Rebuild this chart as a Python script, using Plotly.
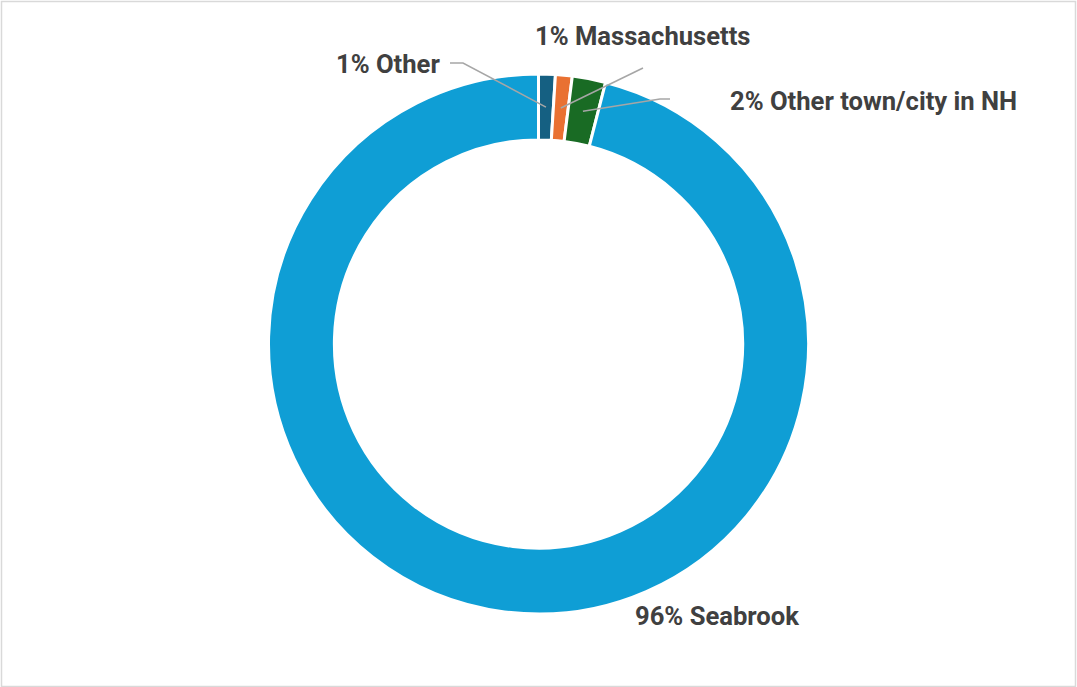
import math
import plotly.graph_objects as go

# ---- data ----
categories = ["Other", "Massachusetts", "Other town/city in NH", "Seabrook"]
shares = [1.0, 1.0, 2.0, 96.0]
colors = ["#156082", "#E97132", "#196B24", "#0F9ED5"]

W, H = 1077, 687
CX, CY, R_OUT = 538.5, 344.0, 270.0
HOLE = 0.756
R_IN = R_OUT * HOLE


def px(x):
    return x / W


def py(y):
    return 1 - y / H


fig = go.Figure(go.Pie(
    labels=categories,
    values=shares,
    sort=False,
    direction="clockwise",
    rotation=0,
    hole=HOLE,
    marker=dict(colors=colors, line=dict(color="white", width=3)),
    textinfo="none",
    hoverinfo="label+percent",
    showlegend=False,
    domain=dict(x=[px(CX - R_OUT), px(CX + R_OUT)], y=[py(CY + R_OUT), py(CY - R_OUT)]),
))

# label placement (layout), leader lines end at slice mid-angle / mid-ring
label_pos = {
    "Other": dict(x=442, y=64, xanchor="right", elbow=[(450, 63), (463, 63)]),
    "Massachusetts": dict(x=643, y=36, xanchor="center", elbow=[(643, 68)]),
    "Other town/city in NH": dict(x=728, y=101, xanchor="left", elbow=[(670, 99), (660, 99)]),
    "Seabrook": dict(x=633, y=616, xanchor="left", elbow=None),
}

total = sum(shares)
cum = 0.0
shapes = []
annotations = []
for cat, v in zip(categories, shares):
    mid = (cum + v / 2) / total * 2 * math.pi
    cum += v
    pct = round(v / total * 100)
    lp = label_pos[cat]
    annotations.append(dict(
        x=px(lp["x"]), y=py(lp["y"]), xref="paper", yref="paper",
        xanchor=lp["xanchor"], yanchor="middle", showarrow=False,
        text=f"{pct}% {cat}",
        font=dict(family="Roboto", size=25.6, color="#404040", weight="bold"),
    ))
    if lp["elbow"]:
        rm = (R_OUT + R_IN) / 2
        ex = CX + rm * math.sin(mid)
        ey = CY - rm * math.cos(mid)
        pts = lp["elbow"] + [(ex, ey)]
        path = "M " + " L ".join(f"{px(a):.5f},{py(b):.5f}" for a, b in pts)
        shapes.append(dict(type="path", path=path, xref="paper", yref="paper",
                           line=dict(color="#A6A6A6", width=1.5)))

# chart border
shapes.append(dict(type="rect", xref="paper", yref="paper", x0=px(1.5), x1=px(W - 1.5),
                   y0=py(H - 0.5), y1=py(1.5), line=dict(color="#D9D9D9", width=1.5)))

fig.update_layout(
    width=W, height=H,
    margin=dict(l=0, r=0, t=0, b=0),
    paper_bgcolor="white",
    plot_bgcolor="white",
    shapes=shapes,
    annotations=annotations,
)

fig.write_html("out.html",
               config={"displayModeBar": False},
               post_script="document.body.style.margin='0';document.body.style.overflow='hidden';")
